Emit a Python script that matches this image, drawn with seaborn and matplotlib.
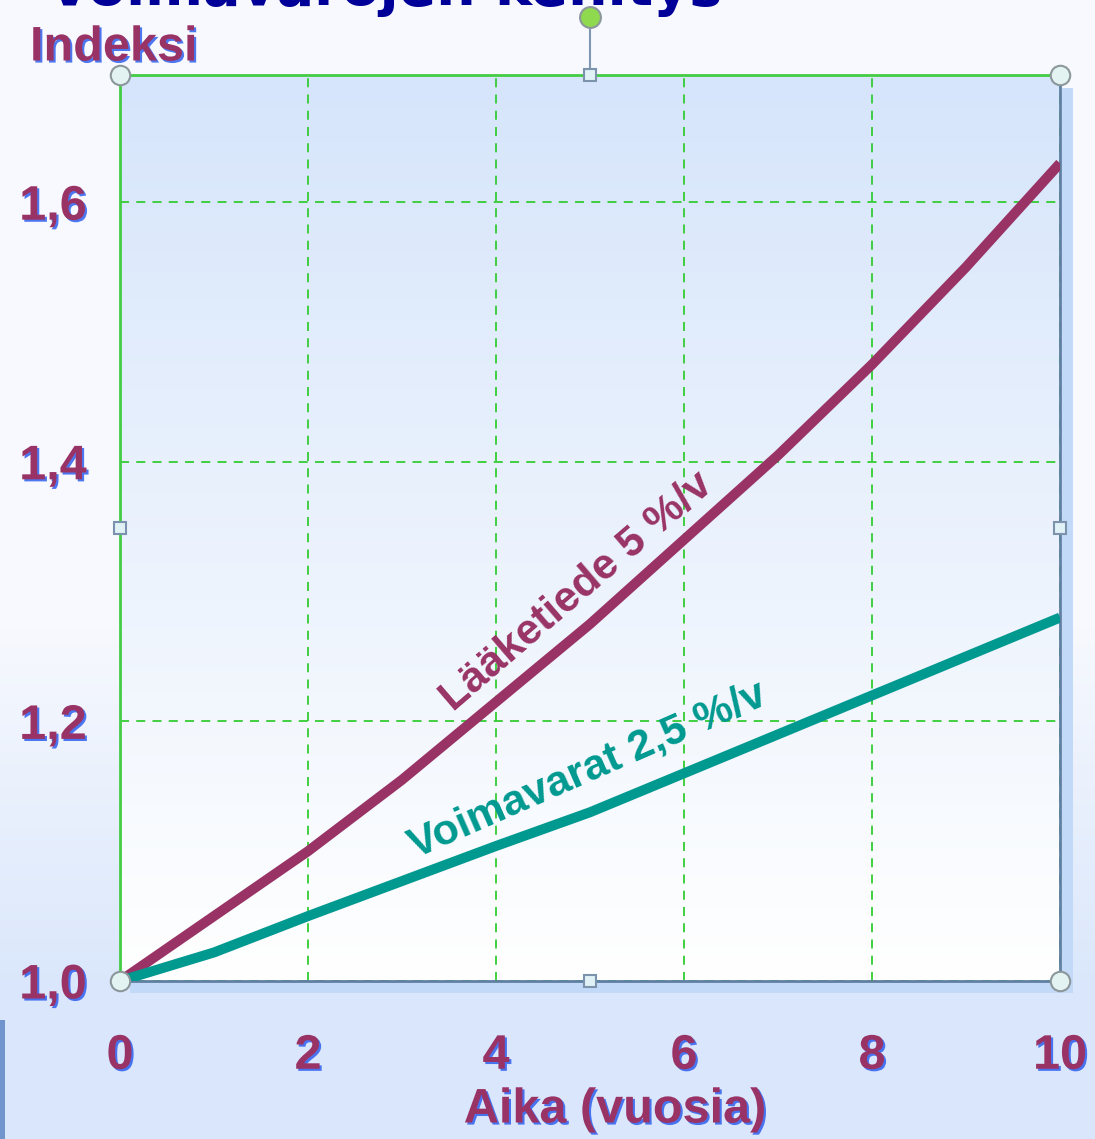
import numpy as np
import pandas as pd
import seaborn as sns
import matplotlib.pyplot as plt
import matplotlib.patheffects as pe
from matplotlib.colors import LinearSegmentedColormap
from matplotlib.patches import Rectangle

# Data
years = [0, 1, 2, 3, 4, 5, 6, 7, 8, 9, 10]
laaketiede = [1.0, 1.05, 1.10, 1.155, 1.215, 1.275, 1.34, 1.405, 1.475, 1.55, 1.63]
voimavarat = [1.0, 1.022, 1.05, 1.077, 1.104, 1.13, 1.16, 1.19, 1.22, 1.25, 1.28]
x_ticks = [0, 2, 4, 6, 8, 10]
y_ticks = [1.0, 1.2, 1.4, 1.6]
y_tick_labels = ['1,0', '1,2', '1,4', '1,6']

df = pd.DataFrame({
    'Aika': years * 2,
    'Indeksi': laaketiede + voimavarat,
    'Sarja': ['Lääketiede'] * len(years) + ['Voimavarat'] * len(years),
})

MAROON = '#993366'
TEAL = '#009990'
W, H = 1095, 1139

sns.set_theme(style='white')
plt.rcParams['font.family'] = ['Liberation Sans', 'DejaVu Sans']

fig = plt.figure(figsize=(W / 100, H / 100), dpi=100)

# background gradient of the slide
bg = fig.add_axes([0, 0, 1, 1], zorder=-10)
t = np.linspace(0, 1, 256)
bg_cmap = LinearSegmentedColormap.from_list('bg', [(0, '#d9e6fb'), (0.12, '#d9e6fb'), (0.45, '#f7f9fe'), (1, '#f7f9fe')])
bg.imshow(t[:, None], cmap=bg_cmap, aspect='auto', extent=[0, 1, 0, 1], origin='lower')
bg.set_axis_off()
bg.add_patch(Rectangle((0, 0), 5 / W, 119 / H, transform=bg.transAxes, color='#6f95cc', lw=0))

# shadow bands right and below the plot area
fig.patches.append(Rectangle((1062 / W, (H - 993) / H), 11 / W, 905 / H, transform=fig.transFigure,
                             color='#c2daf7', lw=0, zorder=-5))
fig.patches.append(Rectangle((130 / W, (H - 993) / H), 943 / W, 11 / H, transform=fig.transFigure,
                             color='#c2daf7', lw=0, zorder=-5))

ax = fig.add_axes([120 / W, (H - 981) / H, 940 / W, 906 / H])
pa_cmap = LinearSegmentedColormap.from_list('pa', ['#ffffff', '#d6e5fb'])
ax.imshow(t[:, None], cmap=pa_cmap, aspect='auto', extent=[0, 1, 0, 1], origin='lower',
          transform=ax.transAxes, zorder=0)

sns.lineplot(data=df, x='Aika', y='Indeksi', hue='Sarja', palette=[MAROON, TEAL],
             linewidth=7.2, legend=False, ax=ax, zorder=3)
for ln in ax.get_lines():
    ln.set_solid_capstyle('butt')

ax.set_xlim(0, 10)
ax.set_ylim(1.0, 1.698)
ax.set_xticks(x_ticks)
ax.set_yticks(y_ticks)
ax.set_yticklabels(y_tick_labels)
ax.set_xlabel('')
ax.set_ylabel('')
ax.set_axisbelow(True)
ax.grid(True, color='#33cc33', linestyle=(0, (5, 4)), linewidth=1.3)

shadow = [pe.SimplePatchShadow(offset=(1.5, -1.5), shadow_rgbFace='#2255ee', alpha=0.8), pe.Normal()]
ax.tick_params(length=0, labelsize=35, labelcolor=MAROON)
ax.tick_params(axis='x', pad=38)
ax.tick_params(axis='y', pad=24)
for lab in ax.get_xticklabels() + ax.get_yticklabels():
    lab.set_fontweight('bold')
    lab.set_path_effects(shadow)

ax.spines['top'].set_color('#44cc44')
ax.spines['left'].set_color('#44cc44')
ax.spines['right'].set_color('#5f7fa3')
ax.spines['bottom'].set_color('#5f7fa3')
for s in ax.spines.values():
    s.set_linewidth(2)

# line labels
ax.text(4.86, 1.300, 'Lääketiede 5 %/v', rotation=40.6, rotation_mode='anchor', ha='center', va='center',
        fontsize=31, fontweight='bold', color=MAROON, zorder=4)
ax.text(4.98, 1.1625, 'Voimavarat 2,5 %/v', rotation=23.7, rotation_mode='anchor', ha='center', va='center',
        fontsize=31, fontweight='bold', color=TEAL, zorder=4)

# selection handles of the chart object
ax.plot([0.5, 0.5], [1.0, 1.064], transform=ax.transAxes, clip_on=False, color='#7f97b0', lw=1.5, zorder=5)
for cx, cy in [(0, 0), (1, 0), (0, 1), (1, 1)]:
    ax.plot(cx, cy, 'o', transform=ax.transAxes, clip_on=False, ms=14, mfc='#e2f3f1', mec='#8c979c',
            mew=1.5, zorder=6)
for cx, cy in [(0.5, 0), (0.5, 1), (0, 0.5), (1, 0.5)]:
    ax.plot(cx, cy, 's', transform=ax.transAxes, clip_on=False, ms=9, mfc='#e0f2f6', mec='#7b93ad',
            mew=1.5, zorder=6)
ax.plot(0.5, 1.064, 'o', transform=ax.transAxes, clip_on=False, ms=15, mfc='#8fd94f', mec='#8c979c',
        mew=1.5, zorder=6)

# texts outside the plot area
fig.text(722 / W, 1 - 5 / H, 'Voimavarojen kehitys', ha='right', va='baseline', fontsize=40,
         fontweight='bold', color='#000099', family=['DejaVu Sans'])
fig.text(30 / W, 1 - 48 / H, 'Indeksi', ha='left', va='center', fontsize=35, fontweight='bold',
         color=MAROON, path_effects=shadow)
fig.text(615 / W, 1 - 1110 / H, 'Aika (vuosia)', ha='center', va='center', fontsize=35, fontweight='bold',
         color=MAROON, path_effects=shadow)

fig.savefig('out.png', dpi=100)
